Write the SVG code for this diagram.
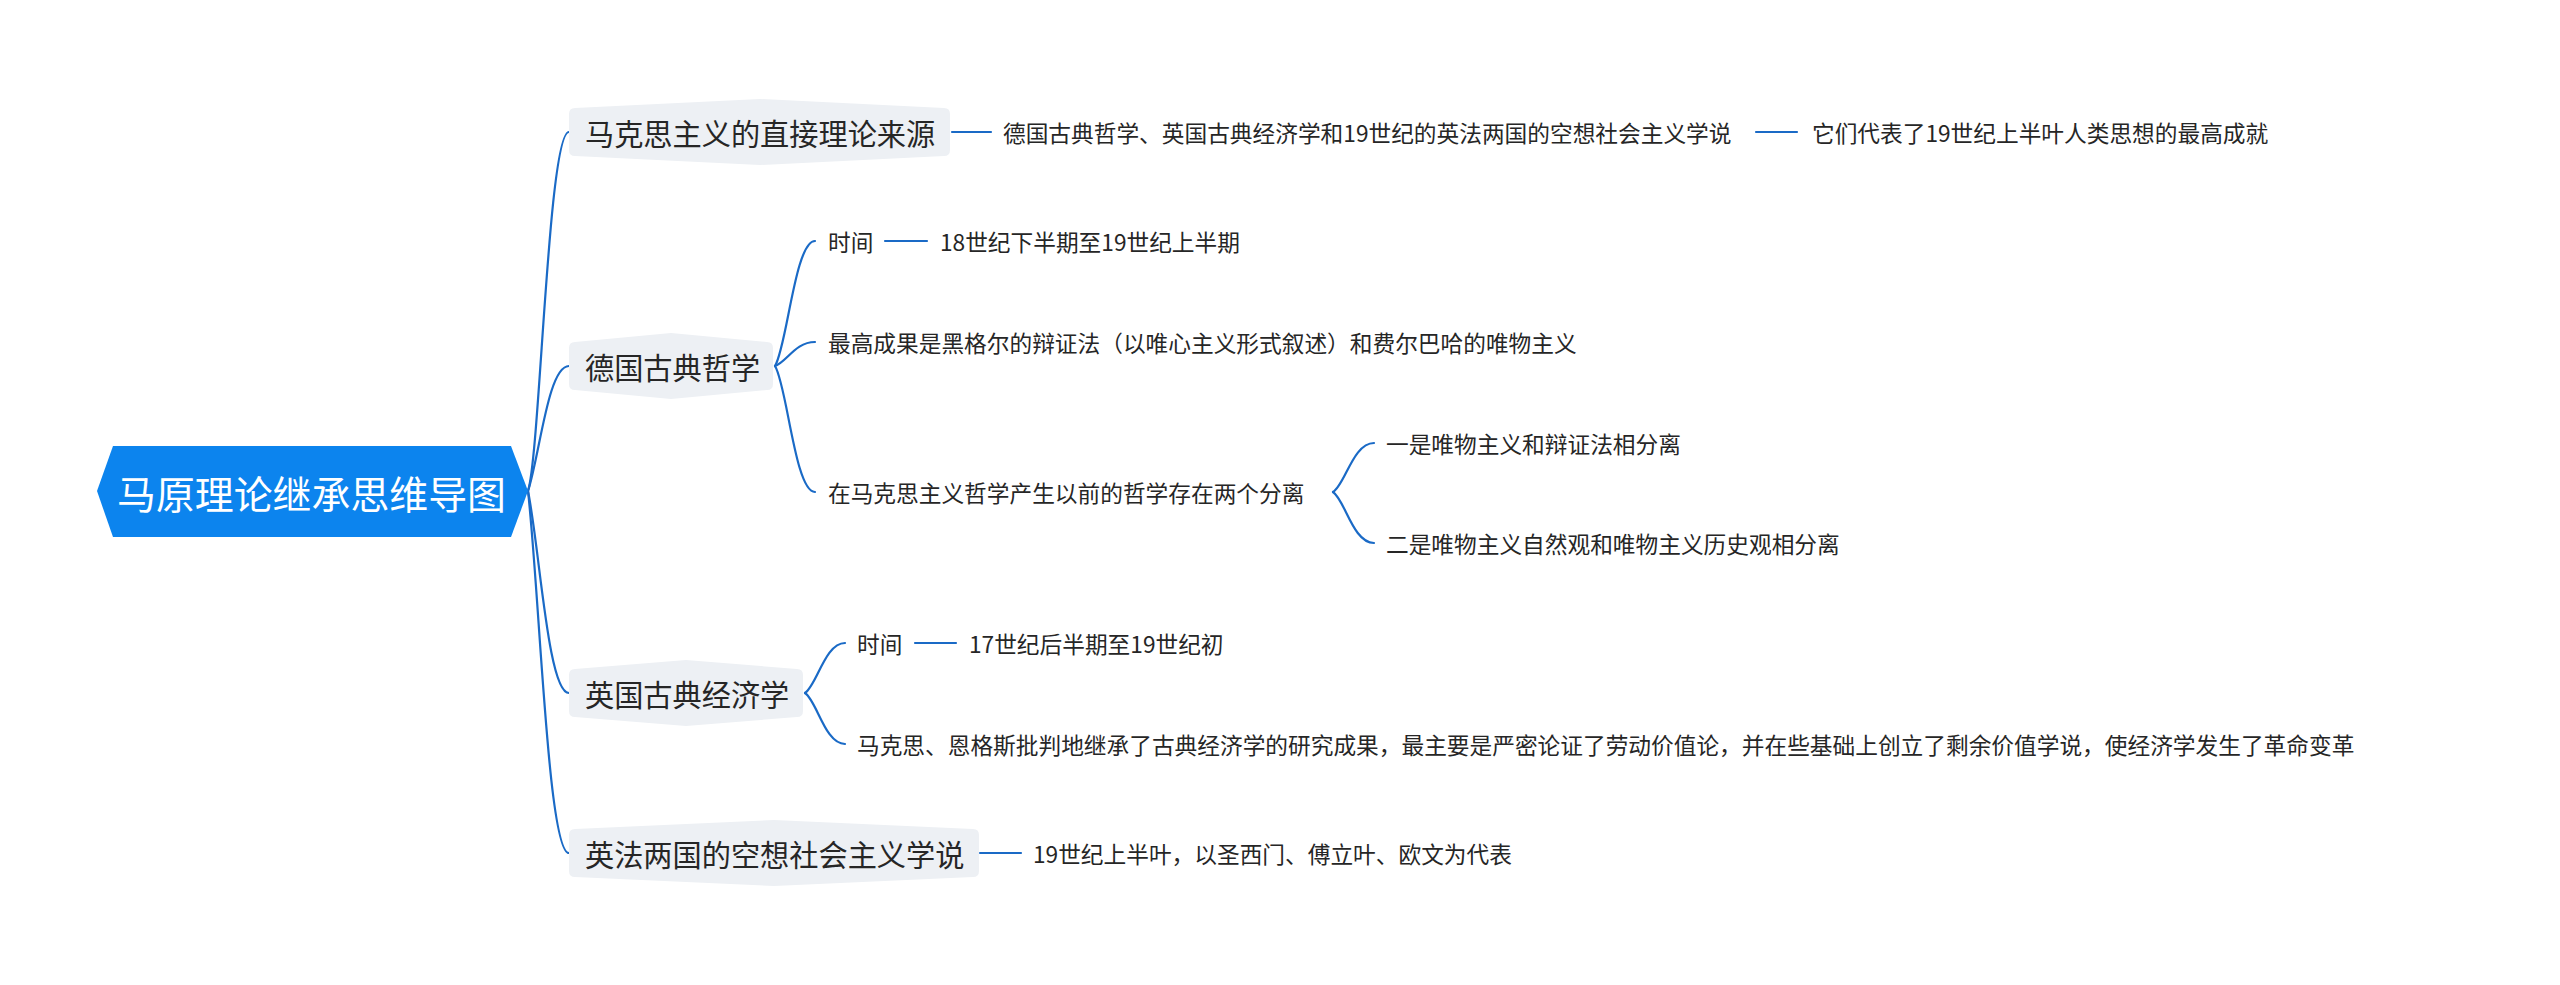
<svg xmlns="http://www.w3.org/2000/svg" width="2560" height="985" viewBox="0 0 2560 985">
<style>
text{font-family:"Noto Sans CJK SC","Noto Sans",sans-serif;dominant-baseline:central;fill:#262626}
.root{font-size:38.9px;fill:#ffffff}
.main{font-size:29.2px}
.sub{font-size:22.7px}
.box{fill:#edf0f4}
.ln{fill:none;stroke:#1a6ac6;stroke-width:2.2;stroke-linecap:round}
</style>
<rect width="2560" height="985" fill="#ffffff"/>
<g id="connectors">
<path class="ln" d="M528 491 C540 455 548 132 569 132"/>
<path class="ln" d="M528 491 C540 454 548 366 569 366"/>
<path class="ln" d="M528 491 C540 551 548 693 569 693"/>
<path class="ln" d="M528 491 C540 600 548 853 569 853"/>
<line class="ln" x1="952" y1="132" x2="991" y2="132"/>
<line class="ln" x1="1756" y1="132" x2="1797" y2="132"/>
<path class="ln" d="M775 366 C787 347 795 241 815 241"/>
<path class="ln" d="M775 366 C787 362 795 342 815 342"/>
<path class="ln" d="M775 366 C787 385 795 492 815 492"/>
<line class="ln" x1="885" y1="241" x2="927" y2="241"/>
<path class="ln" d="M805 693 C817 685 825 643 845 643"/>
<path class="ln" d="M805 693 C817 701 825 744 845 744"/>
<line class="ln" x1="915" y1="643" x2="956" y2="643"/>
<path class="ln" d="M1333 492 C1345 485 1353 443 1374 443"/>
<path class="ln" d="M1333 492 C1345 500 1353 543 1374 543"/>
<line class="ln" x1="980" y1="853" x2="1021" y2="853"/>
</g>
<g id="root">
<polygon points="97,491 113,446 511,446 528,491 511,537 113,537" fill="#0c84ee"/>
<text class="root" x="311.5" y="492" text-anchor="middle">马原理论继承思维导图</text>
</g>
<g id="n1">
<path class="box" d="M575 108 L760 99 L944 108 Q950 108 950 114 L950 150 Q950 156 944 156 L760 165 L575 156 Q569 156 569 150 L569 114 Q569 108 575 108 Z"/>
<text class="main" x="585" y="132">马克思主义的直接理论来源</text>
</g>
<g id="n1a"><text class="sub" x="1003" y="132">德国古典哲学、英国古典经济学和19世纪的英法两国的空想社会主义学说</text></g>
<g id="n1b"><text class="sub" x="1812" y="132">它们代表了19世纪上半叶人类思想的最高成就</text></g>
<g id="n2">
<path class="box" d="M575 342 L671 333 L767 342 Q773 342 773 348 L773 384 Q773 390 767 390 L671 399 L575 390 Q569 390 569 384 L569 348 Q569 342 575 342 Z"/>
<text class="main" x="585" y="366">德国古典哲学</text>
</g>
<g id="n2a"><text class="sub" x="828" y="241">时间</text></g>
<g id="n2a1"><text class="sub" x="940" y="241">18世纪下半期至19世纪上半期</text></g>
<g id="n2b"><text class="sub" x="828" y="342">最高成果是黑格尔的辩证法（以唯心主义形式叙述）和费尔巴哈的唯物主义</text></g>
<g id="n2c"><text class="sub" x="828" y="492">在马克思主义哲学产生以前的哲学存在两个分离</text></g>
<g id="n2c1"><text class="sub" x="1386" y="443">一是唯物主义和辩证法相分离</text></g>
<g id="n2c2"><text class="sub" x="1386" y="543">二是唯物主义自然观和唯物主义历史观相分离</text></g>
<g id="n3">
<path class="box" d="M575 669 L686 660 L797 669 Q803 669 803 675 L803 711 Q803 717 797 717 L686 726 L575 717 Q569 717 569 711 L569 675 Q569 669 575 669 Z"/>
<text class="main" x="585" y="693">英国古典经济学</text>
</g>
<g id="n3a"><text class="sub" x="857" y="643">时间</text></g>
<g id="n3a1"><text class="sub" x="969" y="643">17世纪后半期至19世纪初</text></g>
<g id="n3b"><text class="sub" x="857" y="744">马克思、恩格斯批判地继承了古典经济学的研究成果，最主要是严密论证了劳动价值论，并在些基础上创立了剩余价值学说，使经济学发生了革命变革</text></g>
<g id="n4">
<path class="box" d="M575 829 L774 820 L973 829 Q979 829 979 835 L979 871 Q979 877 973 877 L774 886 L575 877 Q569 877 569 871 L569 835 Q569 829 575 829 Z"/>
<text class="main" x="585" y="853">英法两国的空想社会主义学说</text>
</g>
<g id="n4a"><text class="sub" x="1033" y="853">19世纪上半叶，以圣西门、傅立叶、欧文为代表</text></g>
</svg>
